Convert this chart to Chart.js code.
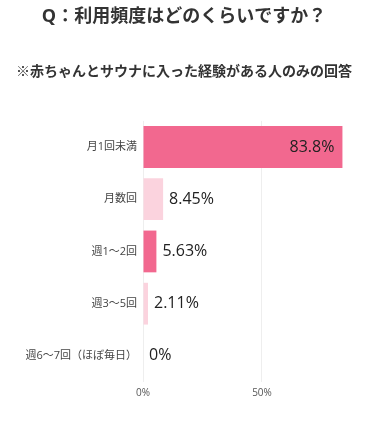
<!DOCTYPE html>
<html>
<head>
<meta charset="utf-8">
<script src="https://cdn.jsdelivr.net/npm/chart.js@4"></script>
<style>
  body { margin: 0; background: #fff; }
  #wrap { width: 368px; height: 426px; }
</style>
</head>
<body>
<div id="wrap"><canvas id="myChart"></canvas></div>
<script>
let labels = ['月1回未満', '月数回', '週1～2回', '週3～5回', '週6～7回（ほぼ毎日）'];
let values = [83.8, 8.45, 5.63, 2.11, 0];
let valueLabels = ['83.8%', '8.45%', '5.63%', '2.11%', '0%'];
let barColors = ['#f2688f', '#fbd3de', '#f2688f', '#fbd3de', '#f2688f'];

let fontFamily = '"Open Sans", "Noto Sans CJK JP", sans-serif';

// 値ラベルを描く
let valueLabelPlugin = {
    id: 'valueLabels',
    afterDatasetsDraw(chart) {
        let ctx = chart.ctx;
        let meta = chart.getDatasetMeta(0);
        ctx.save();
        ctx.font = '16px ' + fontFamily;
        ctx.fillStyle = '#222';
        ctx.textBaseline = 'middle';
        meta.data.forEach((bar, i) => {
            if (values[i] > 50) {
                ctx.textAlign = 'right';
                ctx.fillText(valueLabels[i], bar.x - 8, bar.y);
            } else {
                ctx.textAlign = 'left';
                ctx.fillText(valueLabels[i], bar.x + 6, bar.y);
            }
        });
        ctx.restore();
    }
};

let ctx = document.querySelector('#myChart').getContext('2d');

let myChart = new Chart(ctx, {
    type: 'bar',
    data: {
        labels: labels,
        datasets: [{
            data: values,
            backgroundColor: barColors,
            borderWidth: 0,
            barPercentage: 1,
            categoryPercentage: 0.8
        }]
    },
    options: {
        indexAxis: 'y',
        responsive: true,
        maintainAspectRatio: false,
        animation: false,
        layout: { padding: { left: 12, right: 12, bottom: 22 } },
        plugins: {
            legend: { display: false },
            tooltip: { enabled: false },
            title: {
                display: true,
                text: 'Q：利用頻度はどのくらいですか？',
                color: '#333',
                font: { family: fontFamily, size: 18, weight: 'bold' },
                padding: { top: 6.5, bottom: 35.5 }
            },
            subtitle: {
                display: true,
                text: '※赤ちゃんとサウナに入った経験がある人のみの回答',
                color: '#333',
                font: { family: fontFamily, size: 14, weight: 'bold' },
                padding: { top: 0, bottom: 40.5 }
            }
        },
        scales: {
            x: {
                min: 0,
                max: 89.5,
                border: { display: false },
                grid: { color: '#eeeeee', drawTicks: false },
                afterBuildTicks(scale) {
                    scale.ticks = scale.ticks.filter(t => t.value % 50 === 0);
                },
                ticks: {
                    stepSize: 50,
                    padding: 5,
                    color: '#555',
                    font: { family: fontFamily, size: 10 },
                    callback: v => v + '%'
                }
            },
            y: {
                border: { display: false },
                grid: { display: false, drawTicks: false },
                afterFit(scale) { scale.width = 131; },
                ticks: {
                    padding: 6,
                    color: '#444',
                    font: { family: fontFamily, size: 11 }
                }
            }
        }
    },
    plugins: [valueLabelPlugin]
});
</script>
</body>
</html>
